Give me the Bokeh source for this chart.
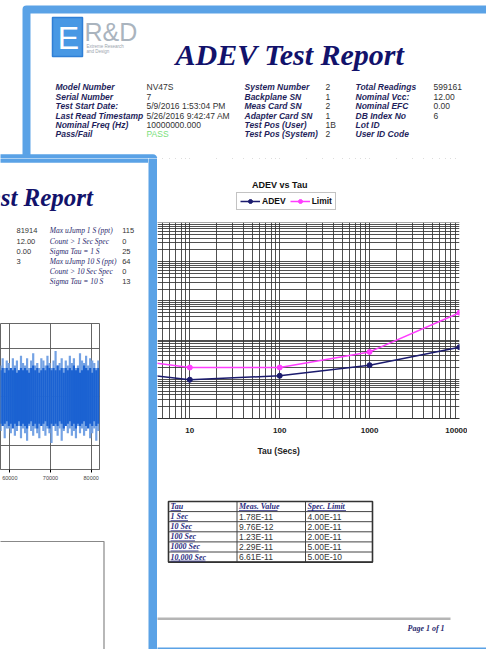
from bokeh.plotting import figure
from bokeh.models import Range1d, FixedTicker, NumeralTickFormatter, Title, BoxAnnotation, Label
from bokeh.layouts import row, column
from bokeh.core.properties import value
from bokeh.embed import file_html
from bokeh.resources import INLINE

# ---------------- data ----------------
tau = [1, 10, 100, 1000, 10000]
tau_labels = ["1 Sec", "10 Sec", "100 Sec", "1000 Sec", "10,000 Sec"]
adev = [1.78e-11, 9.76e-12, 1.23e-11, 2.29e-11, 6.61e-11]
limit = [4.00e-11, 2.00e-11, 2.00e-11, 5.00e-11, 5.00e-10]
table_header = ["Tau", "Meas. Value", "Spec. Limit"]
tau_ticks = [10, 100, 1000, 10000]

hdr_lab1 = ["Model Number", "Serial Number", "Test Start Date:", "Last Read Timestamp",
            "Nominal Freq (Hz)", "Pass/Fail"]
hdr_val1 = ["NV47S", "7", "5/9/2016 1:53:04 PM", "5/26/2016 9:42:47 AM", "10000000.000", ""]
hdr_lab2 = ["System Number", "Backplane SN", "Meas Card SN", "Adapter Card SN",
            "Test Pos (User)", "Test Pos (System)"]
hdr_val2 = ["2", "1", "2", "1", "1B", "2"]
hdr_lab3 = ["Total Readings", "Nominal Vcc:", "Nominal EFC", "DB Index No", "Lot ID", "User ID Code"]
hdr_val3 = ["599161", "12.00", "0.00", "6", "", ""]
pass_fail = "PASS"

back_val1 = ["81914", "12.00", "0.00", "3"]
back_lab2 = ["Max uJump 1 S (ppt)", "Count > 1 Sec Spec", "Sigma Tau = 1 S",
             "Max uJump 10 S (ppt)", "Count > 10 Sec Spec", "Sigma Tau = 10 S"]
back_val2 = ["115", "0", "25", "64", "0", "13"]

# frequency-error trace on the second page (envelope per 500-reading bin)
noise_t = list(range(57750, 82000, 500))
noise_hi = [13, 16, 12, 15,
            14, 12, 16, 13, 15, 11, 17, 14, 13, 16, 12, 15, 18, 13, 14, 12, 16, 15, 13, 17, 14, 12,
            15, 19, 13, 14, 16, 12, 15, 13, 17, 14, 16, 12, 13, 18, 15, 14, 17, 13, 16, 15, 14, 12, 15]
noise_lo = [-14, -12, -17, -13,
            -13, -15, -12, -16, -14, -12, -17, -13, -15, -18, -12, -14, -16, -13, -15, -17, -12, -14,
            -16, -13, -15, -19, -12, -14, -16, -13, -18, -14, -12, -15, -13, -16, -14, -17, -12, -15,
            -13, -16, -14, -12, -17, -15, -13, -18, -14]
core_hi = [11, 12, 10, 12, 11, 12, 11, 12, 10, 11, 12, 11, 12, 11, 10, 12, 13, 11, 12, 10, 11, 12,
           11, 13, 12, 11, 12, 11, 13, 11, 12, 10, 12, 11, 12, 11, 13, 11, 12, 10, 11, 13, 12, 11,
           12, 10, 12, 11, 12]
core_lo = [-11, -12, -11, -10, -12, -11, -13, -11, -12, -10, -12, -11, -12, -13, -11, -10, -12, -11,
           -13, -11, -12, -11, -10, -12, -13, -11, -12, -11, -12, -10, -11, -13, -12, -11, -10, -12,
           -11, -13, -11, -12, -11, -10, -12, -13, -11, -12, -10, -12, -11]
noise_ticks = [60000, 70000, 80000]
noise_grid_y = [-20, 0, 20]

# ---------------- styles ----------------
BLUE = "#5aa2e6"
NAVY = "#12126b"
LAB = "#1f1f5c"
VAL = "#333333"
SANS = value("Liberation Sans")
SERIF = value("Liberation Serif")


def canvas(x0, x1, y0, y1, bg="white"):
    p = figure(width=int(x1 - x0), height=int(y1 - y0), x_range=Range1d(x0, x1),
               y_range=Range1d(y1, y0), output_backend="svg", toolbar_location=None,
               x_axis_location=None, y_axis_location=None, min_border=0, title=None)
    p.grid.visible = False
    p.outline_line_color = None
    p.background_fill_color = bg
    p.border_fill_color = bg
    return p


# ---------------- header of the front page ----------------
top = canvas(0, 486, 0, 158)
top.line([26, 26, 700], [400, 9, 9], line_width=8, color=BLUE, line_join="round")
top.line([-40, 152.5, 152.5], [158, 158, 400], line_width=8.5, color=BLUE, line_join="round")
# logo
top.quad(left=[52], right=[82], top=[17], bottom=[56], fill_color="#4898e4", line_color="#2f7fd6",
         line_width=1.5)
top.text(x=[68], y=[37], text=["E"], text_font=SANS, text_font_size="32px", text_color="white",
         text_align="center", text_baseline="middle")
top.text(x=[84], y=[31], text=["R&D"], text_font=SANS, text_font_size="25px", text_color="#aab4be",
         text_baseline="middle")
top.text(x=[86, 86], y=[46, 51], text=["Extreme Research", "and Design"], text_font=SANS,
         text_font_size="4.5px", text_color="#9aa4ae", text_baseline="middle")
top.text(x=[175], y=[54], text=["ADEV Test Report"], text_font=SERIF, text_font_style="bold italic",
         text_font_size="30px", text_color=NAVY, text_baseline="alphabetic")
rows_y = [86.7 + 9.45 * i for i in range(6)]
for xs, txts, style, col in [(55, hdr_lab1, "bold italic", LAB), (146, hdr_val1, "normal", VAL),
                             (244, hdr_lab2, "bold italic", LAB), (325, hdr_val2, "normal", VAL),
                             (355, hdr_lab3, "bold italic", LAB), (433, hdr_val3, "normal", VAL)]:
    top.text(x=[xs] * len(txts), y=rows_y, text=txts, text_font=SANS, text_font_style=style,
             text_font_size="8.5px", text_color=col, text_baseline="middle")
top.text(x=[146], y=[rows_y[5]], text=[pass_fail], text_font=SANS, text_font_size="8.5px",
         text_color="#7ae07a", text_baseline="middle")

# ---------------- left (second) page ----------------
L1 = canvas(0, 148, 158, 323)
L1.line([-40, 160], [158, 158], line_width=8.5, color=BLUE)
L1.text(x=[93], y=[197], text=["ADEV Test Report"], text_font=SERIF, text_font_style="bold italic",
        text_font_size="25px", text_color=NAVY, text_align="right", text_baseline="alphabetic")
brow = [230.3 + 10.2 * i for i in range(6)]
L1.text(x=[16] * 4, y=brow[:4], text=back_val1, text_font=SANS, text_font_size="7.5px",
        text_color=VAL, text_baseline="middle")
L1.text(x=[49.3] * 6, y=brow, text=back_lab2, text_font=SERIF, text_font_style="italic",
        text_font_size="7.5px", text_color="#2a2a6e", text_baseline="middle")
L1.text(x=[121.7] * 6, y=brow, text=back_val2, text_font=SANS, text_font_size="7.5px",
        text_color=VAL, text_baseline="middle")

noise = figure(width=148, height=167, x_range=Range1d(57715, 82040), y_range=Range1d(-29.9, 30.3),
               output_backend="svg", toolbar_location=None, y_axis_location=None, title=None,
               min_border_left=0, min_border_right=49, min_border_top=0, min_border_bottom=21)
noise.outline_line_color = "#666666"
noise.xaxis.ticker = FixedTicker(ticks=noise_ticks)
noise.xaxis.formatter = NumeralTickFormatter(format="0")
noise.xaxis.major_label_text_font_size = "5.5px"
noise.xaxis.major_label_text_font = "Liberation Sans"
noise.xaxis.major_label_text_color = "#444444"
noise.xaxis.major_label_standoff = 3
noise.xaxis.major_tick_out = 3
noise.xaxis.major_tick_in = 0
noise.xaxis.minor_tick_out = 0
noise.xaxis.axis_line_color = "#666666"
noise.xgrid.ticker = FixedTicker(ticks=noise_ticks)
noise.ygrid.ticker = FixedTicker(ticks=noise_grid_y)
noise.grid.grid_line_color = "#555555"
noise.grid.grid_line_alpha = 0.9
noise.segment(x0=noise_t, y0=noise_lo, x1=noise_t, y1=noise_hi, line_width=2.2, color="#74a2e4")
noise.segment(x0=noise_t, y0=core_lo, x1=noise_t, y1=core_hi, line_width=2.2, color="#1b62d2")

L3 = canvas(0, 148, 490, 649)
L3.quad(left=[-20], right=[103.5], top=[541], bottom=[700], fill_color=None, line_color="#888888",
        line_width=1.2)

strip = canvas(148, 157, 158, 649, bg=BLUE)

# ---------------- ADEV vs Tau chart ----------------
ch = figure(width=310, height=312, x_axis_type="log", y_axis_type="log",
            x_range=Range1d(4.37, 10000), y_range=Range1d(1e-12, 4.29e-6),
            output_backend="svg", toolbar_location=None, y_axis_location=None, title=None,
            min_border_left=0, min_border_right=8, min_border_top=0, min_border_bottom=52)
ch.outline_line_color = None
ch.add_layout(BoxAnnotation(bottom=1e-7, fill_color="white", fill_alpha=1, line_color=None))
ch.xaxis.ticker = FixedTicker(ticks=tau_ticks)
ch.xaxis.formatter = NumeralTickFormatter(format="0")
ch.xaxis.major_label_text_font = "Liberation Sans"
ch.xaxis.major_label_text_font_style = "bold"
ch.xaxis.major_label_text_font_size = "8px"
ch.xaxis.major_label_text_color = "#222222"
ch.xaxis.major_tick_out = 0
ch.xaxis.major_tick_in = 0
ch.xaxis.minor_tick_out = 0
ch.xaxis.minor_tick_in = 0
ch.xaxis.major_label_standoff = 9
ch.xaxis.axis_line_color = "#333333"
ch.xgrid.ticker = FixedTicker(ticks=[m * 10 ** e for e in range(0, 5) for m in range(1, 10)] + [10000])
ch.ygrid.ticker = FixedTicker(ticks=[m * 10.0 ** e for e in range(-12, -7) for m in range(1, 10)] + [1e-7])
ch.grid.grid_line_color = "#333333"
ch.grid.grid_line_alpha = 0.85
ch.grid.grid_line_width = 1

ch.line(tau, adev, color="#1b1b6e", line_width=1.5, legend_label="ADEV")
ch.scatter(tau, adev, size=5, color="#1b1b6e", legend_label="ADEV")
ch.line(tau, limit, color="#ff3cff", line_width=1.5, legend_label="Limit")
ch.scatter(tau, limit, size=5, color="#ff3cff", legend_label="Limit")

ch.add_layout(Label(x=100, y=8.8e-7, text="ADEV vs Tau", text_align="center", text_baseline="middle",
                    text_font="Liberation Sans", text_font_style="bold", text_font_size="9px",
                    text_color="#111111"))

lg = ch.legend[0]
lg.location = (79, 208)
lg.orientation = "horizontal"
lg.label_text_font = "Liberation Sans"
lg.label_text_font_style = "bold"
lg.label_text_font_size = "8.5px"
lg.label_text_color = "#111111"
lg.glyph_width = 20
lg.glyph_height = 10
lg.label_standoff = 2
lg.spacing = 4
lg.padding = 3
lg.margin = 0
lg.border_line_color = "#888888"
lg.background_fill_alpha = 1

ch.add_layout(Title(text="Tau (Secs)", align="left", offset=100, text_font="Liberation Sans",
                    text_font_style="bold", text_font_size="8.5px", text_color="#222222",
                    standoff=16), "below")

spacer = canvas(467, 486, 158, 470)

# ---------------- table & footer ----------------
tb = canvas(157, 486, 470, 649)
col_x = [168, 236.5, 305, 372]
row_y = [501 + 10.1 * k for k in range(7)]
tb.segment(x0=[col_x[0]] * 7, y0=row_y, x1=[col_x[-1]] * 7, y1=row_y, color="#444444", line_width=1)
tb.segment(x0=col_x, y0=[row_y[0]] * 4, x1=col_x, y1=[row_y[-1]] * 4, color="#444444", line_width=1)
tb.quad(left=[col_x[0]], right=[col_x[-1]], top=[row_y[0]], bottom=[row_y[-1]], fill_color=None,
        line_color="#333333", line_width=1.6)
mid = [(row_y[k] + row_y[k + 1]) / 2 for k in range(6)]
link_txt = table_header + tau_labels
link_x = [col_x[i] + 2 for i in range(3)] + [col_x[0] + 2] * len(tau_labels)
link_y = [mid[0]] * 3 + mid[1:]
tb.text(x=link_x, y=link_y, text=link_txt, text_font=SERIF, text_font_style="bold italic",
        text_font_size="8px", text_color="#2b2b80", text_baseline="middle")
tb.segment(x0=link_x, y0=[y + 4 for y in link_y], x1=[x + 3.5 * len(t) for x, t in zip(link_x, link_txt)],
           y1=[y + 4 for y in link_y], color="#2b2b80", line_width=0.8)
tb.text(x=[col_x[1] + 2] * 5, y=mid[1:], text=[f"{v:.2E}" for v in adev], text_font=SANS,
        text_font_size="8.5px", text_color=VAL, text_baseline="middle")
tb.text(x=[col_x[2] + 2] * 5, y=mid[1:], text=[f"{v:.2E}" for v in limit], text_font=SANS,
        text_font_size="8.5px", text_color=VAL, text_baseline="middle")
tb.segment(x0=[150], y0=[618.3], x1=[450], y1=[618.3], color="#b5b5b5", line_width=2.5)
tb.text(x=[407], y=[627.5], text=["Page 1 of 1"], text_font=SERIF, text_font_style="bold italic",
        text_font_size="8px", text_color="#2b2b70", text_baseline="middle")
tb.line([100, 700], [651, 651], line_width=8, color=BLUE)

layout = column(top, row(column(L1, row(noise), L3), strip, column(row(ch, spacer), tb)))

open("out.html", "w").write(file_html(layout, INLINE))
